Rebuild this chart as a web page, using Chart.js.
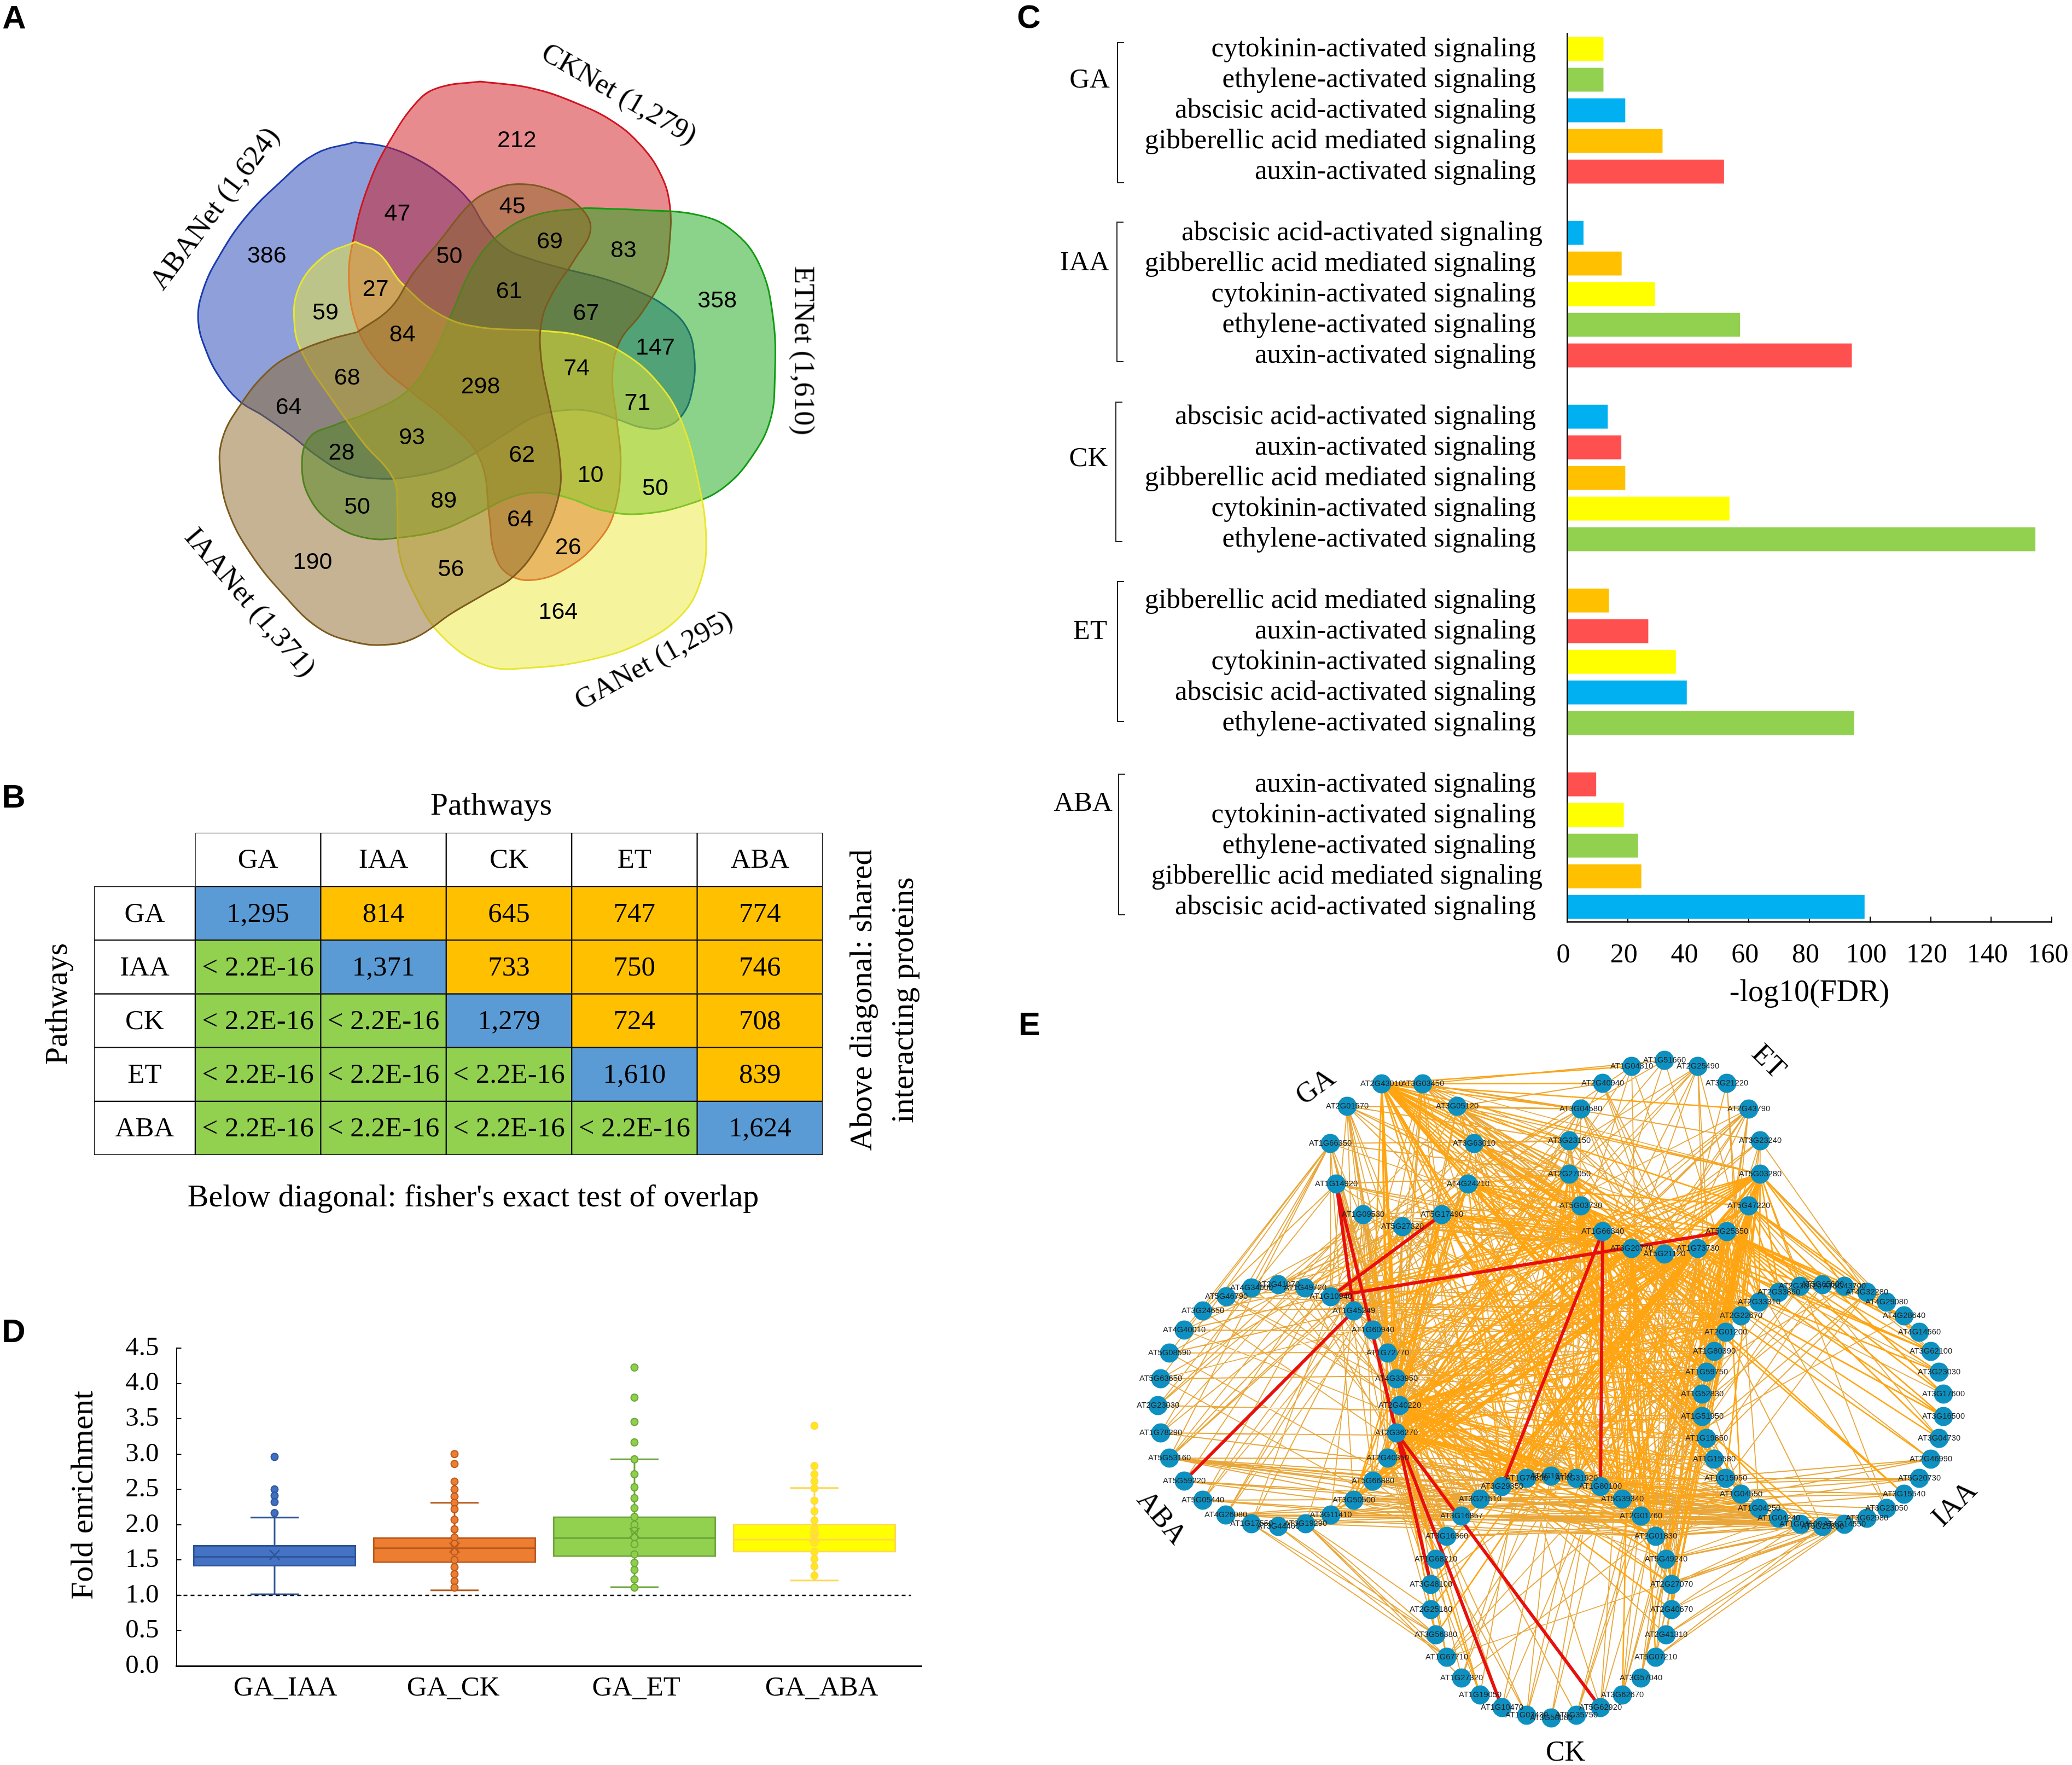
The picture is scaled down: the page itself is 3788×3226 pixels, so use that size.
<!DOCTYPE html>
<html>
<head>
<meta charset="utf-8">
<title>Pathway networks</title>
<script src="https://cdn.jsdelivr.net/npm/chart.js@4"></script>
<style>
  html, body { margin: 0; padding: 0; background: #fff; }
  #page { position: relative; width: 3788px; height: 3226px; overflow: hidden; background: #fff; }
  canvas { position: absolute; display: block; }
  .txt { position: absolute; white-space: nowrap; color: #000; line-height: 1; }
  .bracket { position: absolute; border: 2.5px solid #222; border-right: none; box-sizing: border-box; }
</style>
</head>
<body>
<div id="page"></div>
<script>
// ---------- Panel A: venn outlines (traced), counts ----------
const abaOutlineX = [635,690,745,795,840,870,905,950,1010,1080,1140,1190,1230,1244,1240,1222,1190,1150,1110,1060,1010,960,910,855,800,740,680,620,570,520,470,430,395,370,355,365,395,440,500,565,635];
const abaOutlineY = [291,300,325,362,410,465,508,530,550,570,595,625,670,730,800,850,875,875,860,842,840,852,885,925,958,975,980,968,935,890,850,822,775,720,655,590,520,445,375,315,291];
const ckOutlineX = [860,950,1030,1100,1150,1185,1200,1200,1190,1150,1110,1097,1105,1112,1100,1070,1020,958,910,885,877,860,800,740,680,640,625,635,660,695,750,790,860];
const ckOutlineY = [167,180,210,250,300,360,420,490,560,640,700,770,860,950,1050,1110,1160,1187,1175,1130,1060,940,860,805,745,670,570,480,380,295,205,178,167];
const etOutlineX = [1050,1150,1250,1310,1360,1385,1388,1380,1350,1300,1240,1150,1080,1020,965,910,850,790,720,660,600,555,541,555,600,660,730,775,810,850,895,960,1050];
const etOutlineY = [426,430,440,470,540,650,780,860,930,995,1030,1052,1045,1020,1008,1020,1055,1085,1100,1102,1075,1020,950,895,870,845,800,730,640,540,480,440,426];
const iaaOutlineX = [640,590,530,480,430,398,395,410,450,510,570,630,690,745,810,870,920,965,1000,1003,985,970,970,990,1030,1058,1040,990,930,880,840,790,740,700,640];
const iaaOutlineY = [680,695,722,760,830,900,970,1050,1135,1220,1285,1313,1320,1305,1255,1215,1180,1115,1020,940,830,740,660,600,530,470,425,390,377,390,420,490,560,630,680];
const gaOutlineX = [637,680,720,790,860,970,1050,1120,1180,1220,1250,1265,1255,1220,1150,1060,950,870,790,740,715,712,705,650,590,545,528,535,580,637];
const gaOutlineY = [495,520,580,645,670,677,690,725,785,860,980,1100,1190,1260,1315,1350,1367,1362,1300,1210,1130,1040,980,905,810,730,670,590,525,495];

const vennCounts = [212,47,45,386,50,69,83,358,27,61,67,59,84,147,68,74,298,71,64,93,28,62,10,50,50,89,64,26,190,56,164];
const vennCountX = [926,712,918,478,805,985,1117,1285,673,912,1050,583,721,1174,622,1033,861,1142,517,738,612,935,1058,1174,640,795,932,1018,560,808,1000];
const vennCountY = [288,438,423,524,525,495,513,616,593,597,642,641,686,712,774,755,792,826,834,896,928,932,973,1000,1038,1026,1064,1121,1151,1166,1253];

// ---------- Panel B ----------
const pathways = ["GA", "IAA", "CK", "ET", "ABA"];
const overlapTable = [
  ["1,295", "814", "645", "747", "774"],
  ["< 2.2E-16", "1,371", "733", "750", "746"],
  ["< 2.2E-16", "< 2.2E-16", "1,279", "724", "708"],
  ["< 2.2E-16", "< 2.2E-16", "< 2.2E-16", "1,610", "839"],
  ["< 2.2E-16", "< 2.2E-16", "< 2.2E-16", "< 2.2E-16", "1,624"],
];

// ---------- Panel C ----------
const fdrLabels = [
  "cytokinin-activated signaling", "ethylene-activated signaling", "abscisic acid-activated signaling", "gibberellic acid mediated signaling", "auxin-activated signaling", "",
  "abscisic acid-activated signaling", "gibberellic acid mediated signaling", "cytokinin-activated signaling", "ethylene-activated signaling", "auxin-activated signaling", "",
  "abscisic acid-activated signaling", "auxin-activated signaling", "gibberellic acid mediated signaling", "cytokinin-activated signaling", "ethylene-activated signaling", "",
  "gibberellic acid mediated signaling", "auxin-activated signaling", "cytokinin-activated signaling", "abscisic acid-activated signaling", "ethylene-activated signaling", "",
  "auxin-activated signaling", "cytokinin-activated signaling", "ethylene-activated signaling", "gibberellic acid mediated signaling", "abscisic acid-activated signaling",
];
const fdrValues = [
  12, 12, 19.2, 31.5, 51.8, null,
  5.4, 18, 29, 57.1, 94, null,
  13.4, 17.9, 19.2, 53.6, 154.6, null,
  13.8, 26.8, 35.9, 39.5, 94.8, null,
  9.6, 18.7, 23.4, 24.5, 98.2,
];
const fdrTicks = [0, 20, 40, 60, 80, 100, 120, 140, 160];
const shiftedRows = [6, 27]; // these two labels sit a bit further right in the figure

function signalColor(label) {
  if (label.startsWith("cytokinin")) return "#ffff00";
  if (label.startsWith("ethylene")) return "#92d050";
  if (label.startsWith("abscisic")) return "#00b0f0";
  if (label.startsWith("gibberellic")) return "#ffc000";
  return "#ff5050";
}

// ---------- Panel D ----------
const pairNames = ["GA_IAA", "GA_CK", "GA_ET", "GA_ABA"];
const whiskerHigh = [2.10, 2.31, 2.925, 2.52];
const quart3 = [1.71, 1.82, 2.115, 2.01];
const medians = [1.545, 1.667, 1.81, 1.79];
const means = [1.57, 1.675, 1.885, 1.83];
const quart1 = [1.41, 1.46, 1.545, 1.61];
const whiskerLow = [1.015, 1.07, 1.115, 1.21];
const iaaPoints = [2.96, 2.50, 2.41, 2.32, 2.165];
const ckPoints = [3.0, 2.86, 2.61, 2.5, 2.4, 2.31, 2.22, 2.07, 1.935, 1.82, 1.73, 1.62, 1.50, 1.40, 1.30, 1.2, 1.11];
const etPoints = [4.225, 3.80, 3.455, 3.165, 2.925, 2.715, 2.53, 2.375, 2.235, 2.11, 2.0, 1.915, 1.825, 1.725, 1.58, 1.46, 1.36, 1.225, 1.11];
const abaPoints = [3.40, 2.83, 2.715, 2.615, 2.515, 2.34, 2.19, 2.06, 1.94, 1.85, 1.745, 1.615, 1.515, 1.41, 1.28];

// ---------- Panel E: nodes ----------
const nodeNames = [
  "AT2G43010","AT3G03450","AT2G01570","AT3G05120","AT1G66350","AT3G63010","AT1G14920","AT4G24210","AT1G09530","AT5G17490","AT5G27320",
  "AT1G51660","AT1G04310","AT2G25490","AT2G40940","AT3G21220","AT3G04580","AT2G43790","AT3G23150","AT3G23240","AT2G27050","AT5G03280","AT5G03730","AT5G47220","AT1G66340","AT5G25350","AT3G20770","AT1G73730","AT5G21120",
  "AT2G41070","AT1G49720","AT4G34000","AT5G46790","AT1G10940","AT3G24650","AT1G45249","AT4G40010","AT1G60940","AT5G08590","AT1G72770","AT5G63650","AT4G33950","AT2G23030","AT2G40220","AT1G78290","AT2G36270","AT5G53160","AT2G40350","AT5G59220","AT5G66880","AT5G05440","AT3G50500","AT4G26080","AT3G11410","AT1G17550","AT3G19290","AT3G44460",
  "AT3G29350","AT1G74890","AT4G16110","AT4G31920","AT1G80100","AT3G21510","AT5G39340","AT3G16857","AT2G01760","AT3G16360","AT2G01830","AT1G68210","AT5G49240","AT3G48100","AT2G27070","AT2G25180","AT2G40670","AT3G56380","AT2G41310","AT1G67710","AT5G07210","AT1G27320","AT3G57040","AT1G19050","AT3G62670","AT1G10470","AT5G62920","AT1G03430","AT5G35750","AT3G58080",
  "AT5G65600","AT2G38120","AT5G43700","AT2G33860","AT4G32280","AT2G33310","AT4G29080","AT2G22670","AT4G28640","AT2G01200","AT4G14560","AT1G80390","AT3G62100","AT1G59750","AT3G23030","AT1G52830","AT3G17600","AT1G51950","AT3G16500","AT1G19850","AT3G04730","AT1G15580","AT2G46990","AT1G15050","AT5G20730","AT1G04550","AT3G15540","AT1G04250","AT3G23050","AT1G04240","AT3G62980","AT1G04100","AT5G25890","AT4G14550",
];
const nodeX = [
  2526,2601,2463,2664,2432,2695,2443,2684,2492,2636,2564,
  3043,2983,3104,2930,3157,2890,3197,2869,3218,2869,3218,2890,3197,2930,3157,2983,3104,3043,
  2337,2386,2288,2242,2433,2199,2475,2165,2510,2138,2537,2122,2553,2117,2559,2122,2553,2138,2537,2165,2510,2199,2475,2241,2433,2288,2387,2337,
  2746,2791,2836,2882,2926,2706,2966,2672,3000,2645,3027,2625,3046,2616,3056,2616,3056,2625,3046,2645,3027,2672,3000,2706,2966,2746,2926,2791,2882,2836,
  3332,3291,3372,3252,3413,3216,3449,3183,3481,3155,3509,3134,3530,3120,3545,3112,3553,3112,3553,3120,3545,3134,3530,3155,3509,3183,3481,3216,3449,3252,3413,3292,3332,3372,
];
const nodeY = [
  1981,1981,2022,2022,2090,2090,2164,2164,2220,2220,2242,
  1938,1949,1949,1980,1980,2027,2027,2085,2085,2146,2146,2204,2204,2251,2251,2282,2282,2292,
  2348,2354,2354,2370,2370,2396,2396,2431,2431,2473,2473,2520,2520,2569,2569,2619,2619,2665,2665,2707,2707,2742,2742,2769,2769,2785,2785,2790,
  2717,2702,2698,2702,2717,2740,2740,2771,2771,2808,2808,2850,2850,2896,2896,2942,2942,2988,2988,3029,3029,3067,3067,3098,3098,3121,3121,3135,3135,3140,
  2348,2351,2351,2362,2362,2380,2380,2405,2405,2435,2435,2470,2470,2508,2508,2548,2548,2589,2589,2629,2629,2667,2667,2702,2702,2731,2731,2757,2757,2775,2775,2786,2790,2786,
];

// edges: source index -> target indexes
const orangeEdges = {
  0: "12 14 16 18 20 22 24 25 26 27 28 21 23 17 37 39 41 43 45 47 57 58 60 61 63 65 94 96 98 100 102 104 106 108 110 112",
  1: "11 14 16 18 20 24 19 21 25 35 37 41 43 45 49 62 64 59 92 96 100 104",
  2: "16 18 24 26 22 33 35 37 39 43 45 57 62 66 100 110",
  3: "14 16 18 20 21 22 24 27 28 41 43 47 59 61 65 96 102 108 114",
  4: "18 20 26 31 33 36 38 40 44 46 39 41 45 51 62 68",
  5: "18 20 22 24 26 28 25 37 43 45 49 57 60 63 98 106 112",
  6: "20 24 26 34 35 37 39 42 45 41 47 49 64 66 92 104",
  7: "20 22 24 26 27 28 25 23 33 39 41 43 51 57 60 65 94 100 110 118",
  8: "22 24 26 28 29 35 39 41 43 45 47 49 53 62 64 68 100 116",
  9: "24 26 28 27 25 30 33 39 41 43 45 51 58 61 65 71 96 104 119",
  10: "24 26 28 27 29 41 43 47 55 57 60 63 67 94 106",
  11: "29 41 58 94",
  12: "30 43 57 65 96",
  13: "33 37 41 43 59 62 92 98 100",
  14: "45 96 98 112 119",
  15: "63 94 114",
  16: "31 33 39 43 45 60 62 94 96 100 108",
  17: "35 41 43 47 51 57 60 64 96 100 98",
  18: "35 39 43 45 57 59 61 63 65 92 94 100",
  19: "43 47 65 91 92 94 106",
  20: "33 37 41 45 47 51 57 58 60 63 65 67 90 94 96 102 110",
  21: "33 35 37 39 41 43 45 47 49 57 58 60 62 63 64 65 69 71 88 89 90 91 92 94 96 98 100 104 110",
  22: "39 41 45 49 53 58 61 63 67 92 96 98 100 108 99 107",
  23: "43 45 51 57 60 65 67 69 73 88 90 92 94 96 98 100 102 106 93 97 103",
  24: "33 35 39 43 45 47 49 57 60 61 63 65 67 71 94 98 104 112 105 113",
  25: "33 41 43 47 57 61 63 65 67 69 75 87 88 89 90 92 94 96 100 102 112 93 95 97 99 101 103 105 107",
  26: "41 43 45 47 49 51 58 60 63 65 67 71 77 81 94 96 100 101 109 113",
  27: "43 45 47 49 51 53 57 58 62 64 66 68 70 72 74 92 94 98 100 104 95 99 105",
  28: "43 45 49 53 58 59 61 65 67 69 73 83 96 102 103 109",
  29: "57 64 94", 30: "62 66 92", 31: "57 98", 32: "60 94 58 22 28", 33: "57 62 64 96 100 104 112",
  34: "62 92 24", 35: "58 60 63 92 96 106", 36: "59 96 10 24", 37: "60 62 65 68 94 102 108", 38: "64 98 10 26",
  39: "57 61 63 66 94 100 110 116", 40: "66 100 28 9", 41: "58 60 64 67 71 96 102 114", 42: "104 5 8",
  43: "57 58 60 61 62 63 64 65 67 69 71 73 92 94 96 98 100 102 106 110 112 114",
  44: "106 58 3 7",
  45: "57 60 62 64 65 66 68 70 72 74 76 80 82 83 61 63 67 94 100 104 108 114 116",
  46: "57 61 62 64 65 108 63 67 118 7 8 9 5",
  47: "57 58 64 66 68 70 74 65 69 112 116",
  48: "62 64 65 8", 49: "62 64 66 58 60 65 67 110 116", 50: "62 64 67 8 10 7", 51: "58 62 64 65 66 61 63 112 118",
  52: "61 63 64 65 67 116 118 119 9 10 3", 53: "62 64 65 57 63 112 116", 54: "76 74 64 8 10", 55: "72 74 76 78 67 65", 56: "76 74",
  57: "98 96 100 108", 58: "94 102 110", 59: "104 112", 60: "96 106 111", 61: "95 109 111 113 114 116 117 118",
  62: "112 116 120", 63: "100 110 114 115 116 117 118 120", 64: "98 114 116 118 119 120", 65: "102 112 114 116 117 118 119 120",
  66: "116 118", 67: "114 116 118 119 120", 68: "45 47 41", 69: "116 118 119 120 25 27", 70: "100 45 47 39",
  71: "117 118 119 120 21 23 25 27", 72: "45", 73: "120 118 21 27", 74: "45 47", 75: "120 119 23 25 41", 76: "100 106 120 41 25",
  77: "120 119 21 23 27", 78: "110 43 24 26", 79: "98 21 25 27", 80: "43 45 47 20", 81: "104 21 27 28", 82: "43 45 24 27",
  83: "23 28 26 9", 84: "22 26 28 45 47", 85: "25 27 23 41", 86: "26 28",
  87: "63 67", 88: "65 63", 89: "61 64", 90: "63", 91: "65 69 63",
  93: "25 21", 95: "25 27", 97: "23", 99: "23 21", 101: "27 25", 103: "25", 105: "27", 107: "23",
  109: "61 65 63", 111: "60 63 65", 113: "63 65", 115: "21 25",
};
const heavyHubs = [0, 7, 9, 20, 21, 22, 23, 24, 25, 26, 27, 43, 45];
const redEdgeFrom = [6, 6, 35, 33, 45, 45, 45, 24, 24, 9];
const redEdgeTo = [35, 45, 48, 25, 82, 83, 70, 57, 61, 33];

// ---------- helpers ----------
const page = document.getElementById("page");
const SERIF = "'Liberation Serif'";
const SANS = "'Liberation Sans'";
Chart.defaults.font.family = SERIF;
Chart.defaults.color = "#000";
Chart.defaults.animation = false;
Chart.defaults.plugins.legend.display = false;
Chart.defaults.plugins.tooltip.enabled = false;

function addText(text, x, y, size, rot, family, weight) {
  const d = document.createElement("div");
  d.className = "txt";
  d.textContent = text;
  d.style.left = x + "px";
  d.style.top = y + "px";
  d.style.fontFamily = family || SERIF;
  d.style.fontSize = size + "px";
  if (weight) d.style.fontWeight = weight;
  d.style.transform = "translate(-50%,-50%) rotate(" + (rot || 0) + "deg)";
  page.appendChild(d);
}

function addCanvas(x, y, w, h) {
  const c = document.createElement("canvas");
  c.width = w;
  c.height = h;
  c.style.left = x + "px";
  c.style.top = y + "px";
  c.style.width = w + "px";
  c.style.height = h + "px";
  page.appendChild(c);
  return c.getContext("2d");
}

function hiddenAxis(min, max, reverse) {
  return { type: "linear", display: false, min: min, max: max, reverse: !!reverse };
}

function baseOptions(extra) {
  const opts = Object.assign({ responsive: false, devicePixelRatio: 1 }, extra);
  // autoPadding would shrink the plot to make room for the points
  opts.layout = Object.assign({ padding: 0, autoPadding: false }, extra.layout);
  return opts;
}

// the forced axis sizes below must not be changed by tick label overhang
function noOverhang(s) {
  s.paddingLeft = 0;
  s.paddingRight = 0;
  s.paddingTop = 0;
  s.paddingBottom = 0;
}

// ---------- A: venn ----------
function outline(xs, ys) {
  return xs.map((x, i) => ({ x: x, y: ys[i] }));
}
function petal(xs, ys, color, fillColor) {
  return {
    data: outline(xs, ys),
    showLine: true,
    borderColor: color,
    borderWidth: 3,
    backgroundColor: fillColor,
    fill: "shape",
    tension: 0.4,
    pointRadius: 0,
  };
}
new Chart(addCanvas(0, 0, 1600, 1400), {
  type: "scatter",
  data: {
    // first dataset is painted last
    datasets: [
      petal(iaaOutlineX, iaaOutlineY, "#7d5a1e", "rgba(139,103,39,0.5)"),
      petal(gaOutlineX, gaOutlineY, "#e8e62e", "rgba(235,233,57,0.5)"),
      petal(etOutlineX, etOutlineY, "#129a12", "rgba(23,165,23,0.5)"),
      petal(ckOutlineX, ckOutlineY, "#cf1420", "rgba(209,23,29,0.5)"),
      petal(abaOutlineX, abaOutlineY, "#1a3aae", "rgba(29,63,179,0.5)"),
    ],
  },
  options: baseOptions({ scales: { x: hiddenAxis(0, 1568), y: hiddenAxis(0, 1568, true) } }),
  plugins: [{
    id: "vennCounts",
    afterDatasetsDraw(chart) {
      const { ctx, scales } = chart;
      ctx.save();
      ctx.font = "43px " + SANS;
      ctx.fillStyle = "#000";
      ctx.textAlign = "center";
      ctx.textBaseline = "middle";
      vennCounts.forEach((n, i) => {
        ctx.fillText(n, scales.x.getPixelForValue(vennCountX[i]), scales.y.getPixelForValue(vennCountY[i]));
      });
      ctx.restore();
    },
  }],
});
addText("CKNet (1,279)", 1133, 170, 53, 30);
addText("ABANet (1,624)", 391, 380, 53, -53);
addText("ETNet (1,610)", 1471, 641, 53, 90);
addText("IAANet (1,371)", 459, 1100, 53, 49.5);
addText("GANet (1,295)", 1194, 1205, 53, -29);

// ---------- B: table as stacked horizontal bars ----------
const rowHeaderWidth = 0.806;
const tableRows = [""].concat(pathways);
function cellColor(r, c) {
  if (r === 0 || c === 0) return "#ffffff";
  if (r === c) return "#5b9bd5";
  return c > r ? "#ffc000" : "#92d050";
}
const tableSets = [];
for (let c = 0; c <= 5; c++) {
  tableSets.push({
    data: tableRows.map(() => (c === 0 ? rowHeaderWidth : 1)),
    backgroundColor: tableRows.map((_, r) => cellColor(r, c)),
    borderColor: "#111",
    borderWidth: tableRows.map((_, r) => (r === 0 && c === 0 ? 0 : 1.5)),
    borderSkipped: false,
    categoryPercentage: 1,
    barPercentage: 1,
  });
}
new Chart(addCanvas(170, 1520, 1336, 593), {
  type: "bar",
  data: { labels: tableRows, datasets: tableSets },
  options: baseOptions({
    indexAxis: "y",
    layout: { padding: 2 },
    scales: {
      x: { type: "linear", display: false, stacked: true, min: 0, max: 5 + rowHeaderWidth },
      y: { type: "category", display: false, stacked: true },
    },
  }),
  plugins: [{
    id: "cellText",
    afterDatasetsDraw(chart) {
      const { ctx, scales } = chart;
      ctx.save();
      ctx.font = "51px " + SERIF;
      ctx.fillStyle = "#000";
      ctx.textAlign = "center";
      ctx.textBaseline = "middle";
      const colX = (c) => scales.x.getPixelForValue(c === 0 ? rowHeaderWidth / 2 : rowHeaderWidth + c - 0.5);
      tableRows.forEach((label, r) => {
        const y = scales.y.getPixelForValue(r) + 2;
        if (r > 0) ctx.fillText(label, colX(0), y);
        for (let c = 1; c <= 5; c++) {
          ctx.fillText(r === 0 ? pathways[c - 1] : overlapTable[r - 1][c - 1], colX(c), y);
        }
      });
      ctx.restore();
    },
  }],
});
addText("Pathways", 898, 1470, 58);
addText("Pathways", 103, 1835, 58, -90);
addText("Above diagonal: shared", 1574, 1828, 58, -90);
addText("interacting proteins", 1650, 1828, 58, -90);
addText("Below diagonal: fisher's exact test of overlap", 865, 2186, 58);

// ---------- C: bars ----------
new Chart(addCanvas(2060, 0, 1728, 1870), {
  type: "bar",
  data: {
    labels: fdrLabels,
    datasets: [{
      data: fdrValues,
      backgroundColor: fdrLabels.map(signalColor),
      categoryPercentage: 1,
      barPercentage: 0.78,
    }],
  },
  options: baseOptions({
    indexAxis: "y",
    layout: { padding: { top: 61.7, right: 37 } },
    scales: {
      y: {
        grid: { drawOnChartArea: false, drawTicks: false },
        border: { color: "#000", width: 2.5 },
        ticks: {
          autoSkip: false,
          padding: 57,
          font: { size: 51 },
          callback: (v, i) => (shiftedRows.includes(i) ? "" : fdrLabels[i]),
        },
        afterFit: (s) => { s.width = 805; noOverhang(s); },
      },
      x: {
        min: 0,
        max: 160,
        afterBuildTicks: (s) => { s.ticks = fdrTicks.map((v) => ({ value: v })); },
        grid: { drawOnChartArea: false, tickLength: -10, color: "#000", lineWidth: 2 },
        border: { color: "#000", width: 2.5 },
        ticks: { padding: 40, labelOffset: -7, maxRotation: 0, font: { size: 50 } },
        title: { display: true, text: "-log10(FDR)", font: { size: 56 }, padding: { top: 0, bottom: 21 } },
        afterFit: (s) => { s.height = 184.4; noOverhang(s); },
      },
    },
  }),
  plugins: [{
    id: "shiftedLabels",
    afterDatasetsDraw(chart) {
      const { ctx, scales } = chart;
      ctx.save();
      ctx.font = "51px " + SERIF;
      ctx.fillStyle = "#000";
      ctx.textAlign = "right";
      ctx.textBaseline = "middle";
      shiftedRows.forEach((i) => {
        ctx.fillText(fdrLabels[i], scales.x.left - 45, scales.y.getPixelForValue(i));
      });
      ctx.restore();
    },
  }],
});
addText("GA", 1992, 143, 51);
addText("IAA", 1983, 477, 51);
addText("CK", 1990, 835, 51);
addText("ET", 1993, 1151, 51);
addText("ABA", 1980, 1465, 51);
[[2042, 77, 335], [2041, 405, 662], [2039, 734, 991], [2042, 1062, 1320], [2044, 1414, 1673]].forEach((b) => {
  const d = document.createElement("div");
  d.className = "bracket";
  d.style.left = b[0] + "px";
  d.style.top = b[1] + "px";
  d.style.width = "13px";
  d.style.height = b[2] - b[1] + "px";
  page.appendChild(d);
});

// ---------- D: box plot ----------
const boxFill = ["#4472c4", "#ed7d31", "#92d050", "#ffff00"];
const boxEdge = ["#2f5597", "#b9591c", "#6ca53a", "#ffd84d"];
const pointFill = ["#3f6fc4", "#ed7d31", "#8fd04a", "#ffe81a"];
const pointSets = [iaaPoints, ckPoints, etPoints, abaPoints];
const capHalf = 0.134;
const medHalf = 0.45;
const xTickSpots = [0.06, -0.007, 0.01, 0.04];
const gap = { x: null, y: null };

const boxSets = [{
  type: "bar",
  order: 4,
  data: pairNames.map((_, i) => ({ x: i, y: [quart1[i], quart3[i]] })),
  backgroundColor: boxFill,
  borderColor: boxEdge,
  borderWidth: 3,
  borderSkipped: false,
  barThickness: 298,
}];
pairNames.forEach((_, i) => {
  boxSets.push({
    type: "scatter", order: 5, showLine: true, pointRadius: 0, borderColor: boxEdge[i], borderWidth: 3,
    data: [
      { x: i, y: whiskerLow[i] }, { x: i, y: quart1[i] }, gap,
      { x: i, y: quart3[i] }, { x: i, y: whiskerHigh[i] }, gap,
      { x: i - capHalf, y: whiskerHigh[i] }, { x: i + capHalf, y: whiskerHigh[i] }, gap,
      { x: i - capHalf, y: whiskerLow[i] }, { x: i + capHalf, y: whiskerLow[i] },
    ],
  });
  boxSets.push({
    type: "scatter", order: 3, showLine: true, pointRadius: 0, borderColor: boxEdge[i], borderWidth: 3,
    data: [{ x: i - medHalf, y: medians[i] }, { x: i + medHalf, y: medians[i] }],
  });
  boxSets.push({
    type: "scatter", order: 2, pointRadius: 6.5, backgroundColor: pointFill[i], borderColor: boxEdge[i], borderWidth: 2,
    data: pointSets[i].map((v) => ({ x: i, y: v })),
  });
  boxSets.push({
    type: "scatter", order: 1, pointStyle: "crossRot", pointRadius: 13, borderColor: boxEdge[i], borderWidth: 2.5,
    data: [{ x: i, y: means[i] }],
  });
});
boxSets.push({
  type: "scatter", order: 0, showLine: true, pointRadius: 0, borderColor: "#000", borderWidth: 2.5, borderDash: [7, 6],
  data: [{ x: -0.5456, y: 1 }, { x: 3.535, y: 1 }],
});
new Chart(addCanvas(0, 2400, 1750, 780), {
  type: "bar",
  data: { datasets: boxSets },
  options: baseOptions({
    layout: { padding: { top: 64, right: 65 } },
    scales: {
      x: {
        type: "linear",
        min: -0.5456,
        max: 3.596,
        offset: false,
        afterBuildTicks: (s) => { s.ticks = xTickSpots.map((v, i) => ({ value: i + v })); },
        grid: { drawOnChartArea: false, drawTicks: false },
        border: { color: "#000", width: 3 },
        ticks: { padding: 10, autoSkip: false, maxRotation: 0, font: { size: 51 }, callback: (v, i) => pairNames[i] },
        afterFit: (s) => { s.height = 135; noOverhang(s); },
      },
      y: {
        min: 0,
        max: 4.5,
        ticks: { stepSize: 0.5, padding: 41, font: { size: 49 }, callback: (v) => v.toFixed(1) },
        grid: { drawOnChartArea: false, tickLength: -9, color: "#000", lineWidth: 2 },
        border: { color: "#000", width: 2 },
        afterFit: (s) => { s.width = 322.5; noOverhang(s); },
      },
    },
  }),
});
addText("Fold enrichment", 150, 2733, 58, -90);

// ---------- E: network ----------
const nodePoints = nodeNames.map((_, i) => ({ x: nodeX[i], y: nodeY[i] }));
const thinSegments = [];
const heavySegments = [];
Object.keys(orangeEdges).forEach((src) => {
  const bucket = heavyHubs.includes(+src) ? heavySegments : thinSegments;
  orangeEdges[src].split(" ").forEach((t) => {
    bucket.push(nodePoints[+src], nodePoints[+t], gap);
  });
});
const redSegments = [];
redEdgeFrom.forEach((s, i) => {
  redSegments.push(nodePoints[s], nodePoints[redEdgeTo[i]], gap);
});
new Chart(addCanvas(2050, 1850, 1700, 1376), {
  type: "scatter",
  data: {
    datasets: [
      { data: nodePoints, pointRadius: 17.5, backgroundColor: "#0e90c0", borderWidth: 0 },
      { data: redSegments, showLine: true, pointRadius: 0, borderColor: "#e8100c", borderWidth: 6 },
      { data: heavySegments, showLine: true, pointRadius: 0, borderColor: "#ffa512", borderWidth: 2.6 },
      { data: thinSegments, showLine: true, pointRadius: 0, borderColor: "#e9a73a", borderWidth: 1.8 },
    ],
  },
  options: baseOptions({ scales: { x: hiddenAxis(2050, 3750), y: hiddenAxis(1850, 3226, true) } }),
  plugins: [{
    id: "nodeLabels",
    afterDatasetsDraw(chart) {
      const { ctx, scales } = chart;
      ctx.save();
      ctx.font = "14.7px " + SANS;
      ctx.fillStyle = "#222";
      ctx.textAlign = "center";
      ctx.textBaseline = "middle";
      nodeNames.forEach((n, i) => {
        ctx.fillText(n, scales.x.getPixelForValue(nodeX[i]), scales.y.getPixelForValue(nodeY[i]));
      });
      ctx.restore();
    },
  }],
});
addText("GA", 2404, 1985, 52, -36);
addText("ET", 3235, 1939, 52, 45);
addText("ABA", 2125, 2773, 52, 50);
addText("IAA", 3572, 2748, 52, -45);
addText("CK", 2862, 3201, 52);

// ---------- panel letters ----------
addText("A", 26, 32, 60, 0, SANS, "bold");
addText("B", 25, 1456, 60, 0, SANS, "bold");
addText("C", 1881, 31, 60, 0, SANS, "bold");
addText("D", 25, 2433, 60, 0, SANS, "bold");
addText("E", 1882, 1872, 60, 0, SANS, "bold");
</script>
</body>
</html>
